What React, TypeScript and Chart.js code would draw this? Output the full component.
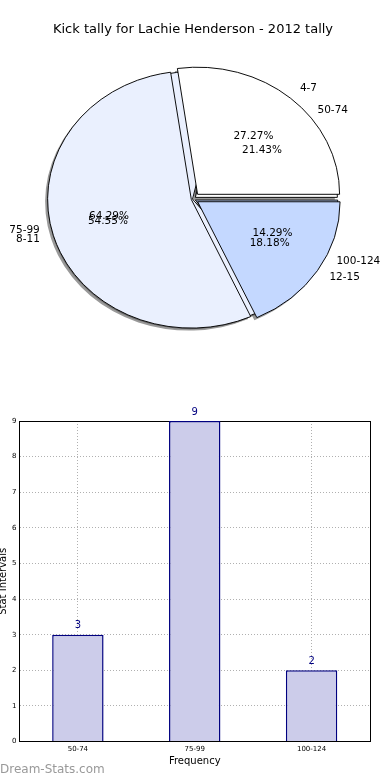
import React, { useEffect, useRef } from "react";
import { Chart, registerables, ArcElement } from "chart.js";

Chart.register(...registerables);

// ---------- data ----------
const chartTitle = "Kick tally for Lachie Henderson - 2012 tally";
const frontLabels = ["4-7", "8-11", "12-15"];
const frontValues = [3, 6, 2];
const backLabels = ["50-74", "75-99", "100-124"];
const backValues = [3, 9, 2];
const barCategories = ["50-74", "75-99", "100-124"];
const barValues = [3, 9, 2];
const yAxisMax = 9;
const xTitle = "Frequency";
const yTitle = "Stat Intervals";
const watermark = "Dream-Stats.com";

// ---------- style ----------
const sliceColors = ["#ffffff", "#eaf0fe", "#c4d8ff"];
const frontExplode = [28, 7, 22];
const backExplode = [12, 2, 10];
const ELLIPSE_K = 0.895; // vertical squash of the pie (non-equal aspect)
const SHADOW = "rgba(70,70,70,0.55)";
const SHADOW_DX = -2.5;
const SHADOW_DY = 2.5;
const FONT = "'DejaVu Sans', sans-serif";

Chart.defaults.font.family = FONT;

const rev = (a: any[]) => [...a].reverse();

function applyEllipse(ctx: CanvasRenderingContext2D, cx: number, cy: number) {
  ctx.translate(cx, cy);
  ctx.scale(1, ELLIPSE_K);
  ctx.translate(-cx, -cy);
}

// same displacement as ArcElement applies for its `offset` option
function explodeShift(arc: any) {
  const off = (arc.options.offset || 0) / 4;
  const fix = 1 - Math.sin(Math.min(Math.PI, arc.circumference || 0));
  return off * (1 + fix);
}

const piePlugin = {
  id: "ellipsePie",
  afterDatasetsUpdate(chart: any) {
    const R = chart.getDatasetMeta(0).controller.outerRadius;
    chart.data.datasets.forEach((_: any, d: number) => {
      chart.getDatasetMeta(d).data.forEach((arc: any) => {
        arc.innerRadius = 0;
        arc.outerRadius = R;
      });
    });
  },
  beforeDatasetsDraw(chart: any) {
    const ctx = chart.ctx;
    const a0 = chart.getDatasetMeta(0).data[0];
    const cx = a0.x, cy = a0.y;
    ctx.save();
    ctx.translate(SHADOW_DX, SHADOW_DY);
    applyEllipse(ctx, cx, cy);
    for (let d = chart.data.datasets.length - 1; d >= 0; d--) {
      chart.getDatasetMeta(d).data.forEach((arc: any) => {
        const s = new (ArcElement as any)({
          x: arc.x,
          y: arc.y,
          startAngle: arc.startAngle,
          endAngle: arc.endAngle,
          innerRadius: 0,
          outerRadius: arc.outerRadius,
          circumference: arc.circumference,
          options: { ...arc.options, backgroundColor: SHADOW, borderColor: SHADOW, borderWidth: 0 },
        });
        s.draw(ctx);
      });
    }
    ctx.restore();
    ctx.save();
    applyEllipse(ctx, cx, cy);
  },
  afterDatasetsDraw(chart: any) {
    const ctx = chart.ctx;
    ctx.restore();
    const a0 = chart.getDatasetMeta(0).data[0];
    const cx = a0.x, cy = a0.y, R = a0.outerRadius;
    ctx.save();
    ctx.font = `10.5px ${FONT}`;
    ctx.fillStyle = "#000";
    ctx.textBaseline = "middle";
    chart.data.datasets.forEach((ds: any, d: number) => {
      const total = ds.data.reduce((s: number, v: number) => s + v, 0);
      chart.getDatasetMeta(d).data.forEach((arc: any, i: number) => {
        const mid = (arc.startAngle + arc.endAngle) / 2;
        const c = Math.cos(mid), s = Math.sin(mid);
        const e = explodeShift(arc);
        const ox = cx + e * c, oy = cy + e * ELLIPSE_K * s;
        ctx.textAlign = c >= 0 ? "left" : "right";
        ctx.fillText(ds.sliceLabels[i], ox + 1.1 * R * c, oy + 1.1 * R * ELLIPSE_K * s);
        ctx.textAlign = "center";
        const pct = ((ds.data[i] / total) * 100).toFixed(2) + "%";
        ctx.fillText(pct, ox + 0.6 * R * c, oy + 0.6 * R * ELLIPSE_K * s);
      });
    });
    ctx.restore();
  },
};

const barLabelPlugin = {
  id: "barLabels",
  afterDatasetsDraw(chart: any) {
    const ctx = chart.ctx;
    ctx.save();
    ctx.font = `10px ${FONT}`;
    ctx.fillStyle = "#000080";
    ctx.textAlign = "center";
    ctx.textBaseline = "middle";
    chart.getDatasetMeta(0).data.forEach((bar: any, i: number) => {
      ctx.fillText(String(chart.data.datasets[0].data[i]), bar.x, bar.y - 9);
    });
    ctx.restore();
  },
  afterDraw(chart: any) {
    const ctx = chart.ctx;
    ctx.save();
    ctx.font = `12px ${FONT}`;
    ctx.fillStyle = "#999999";
    ctx.textAlign = "left";
    ctx.textBaseline = "middle";
    ctx.fillText(watermark, 0, chart.height - 10);
    ctx.restore();
  },
};

export default function App() {
  const pieRef = useRef<HTMLCanvasElement>(null);
  const barRef = useRef<HTMLCanvasElement>(null);

  useEffect(() => {
    const pie = new Chart(pieRef.current as HTMLCanvasElement, {
      type: "pie",
      data: {
        labels: rev(frontLabels),
        datasets: [
          {
            data: rev(frontValues),
            sliceLabels: rev(frontLabels),
            backgroundColor: rev(sliceColors),
            borderColor: "#000",
            borderWidth: 1,
            offset: rev(frontExplode),
          } as any,
          {
            data: rev(backValues),
            sliceLabels: rev(backLabels),
            backgroundColor: rev(sliceColors),
            borderColor: "#000",
            borderWidth: 1,
            offset: rev(backExplode),
          } as any,
        ],
      },
      options: {
        animation: false,
        responsive: false,
        rotation: 90,
        events: [],
        layout: { padding: { top: 0, right: 4, bottom: 34.5, left: 0 } },
        plugins: {
          legend: { display: false },
          tooltip: { enabled: false },
          title: {
            display: true,
            text: chartTitle,
            color: "#000",
            font: { size: 13, weight: "normal", family: FONT },
            padding: { top: 22, bottom: 5 },
          },
        },
      },
      plugins: [piePlugin],
    });

    const gridCommon = {
      color: "#b0b0b0",
      lineWidth: 1,
      drawTicks: false,
    };

    const bar = new Chart(barRef.current as HTMLCanvasElement, {
      type: "bar",
      data: {
        labels: barCategories,
        datasets: [
          {
            data: barValues,
            backgroundColor: "#ccccea",
            borderColor: "#000080",
            borderWidth: 1.5,
            barPercentage: 0.44,
            categoryPercentage: 1,
          },
        ],
      },
      options: {
        animation: false,
        responsive: false,
        events: [],
        layout: { padding: { top: 31, right: 20, bottom: 14, left: -3 } },
        plugins: {
          legend: { display: false },
          tooltip: { enabled: false },
        },
        scales: {
          x: {
            z: 1,
            grid: { ...gridCommon, offset: false },
            border: { display: true, color: "#000", width: 1, dash: [1, 2] },
            ticks: { color: "#000", font: { size: 7 }, padding: 3 },
            title: {
              display: true,
              text: xTitle,
              color: "#000",
              font: { size: 10, lineHeight: 1 },
              padding: { top: 0, bottom: 0 },
            },
          },
          y: {
            z: 1,
            min: 0,
            max: yAxisMax,
            grid: gridCommon,
            border: { display: true, color: "#000", width: 1, dash: [1, 2] },
            ticks: { stepSize: 1, color: "#000", font: { size: 7 }, padding: 3 },
            title: {
              display: true,
              text: yTitle,
              color: "#000",
              font: { size: 10 },
              padding: { top: 0, bottom: 0 },
            },
          },
          x2: {
            type: "category",
            position: "top",
            grid: { display: false, drawTicks: false },
            ticks: { display: false },
            border: { display: true, color: "#000", width: 1 },
          },
          y2: {
            type: "linear",
            position: "right",
            grid: { display: false, drawTicks: false },
            ticks: { display: false },
            border: { display: true, color: "#000", width: 1 },
          },
        },
      } as any,
      plugins: [barLabelPlugin],
    });

    return () => {
      pie.destroy();
      bar.destroy();
    };
  }, []);

  return (
    <div style={{ position: "fixed", left: 0, top: 0, width: 390, height: 780, background: "#fff" }}>
      <canvas ref={pieRef} width={390} height={390} style={{ display: "block" }} />
      <canvas ref={barRef} width={390} height={390} style={{ display: "block" }} />
    </div>
  );
}
